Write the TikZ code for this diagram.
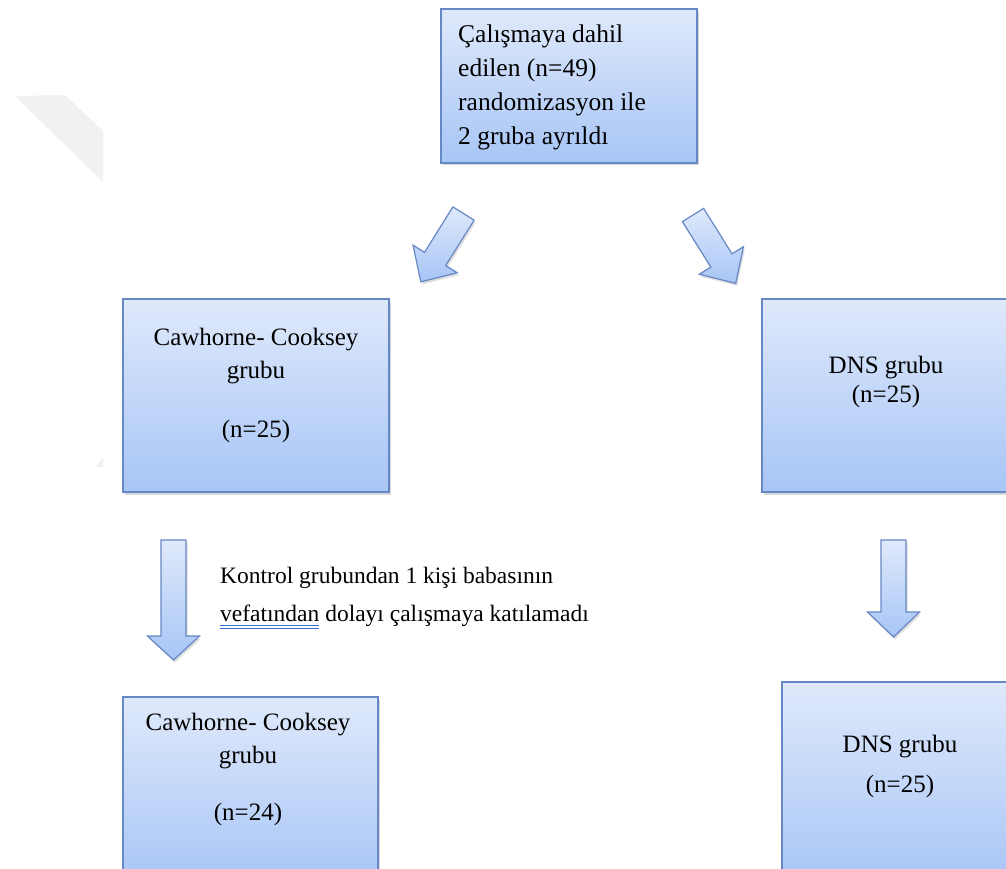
\documentclass[tikz,border=0pt]{standalone}
\usepackage{fontspec}
\setmainfont{Liberation Serif}
\usetikzlibrary{shadows}
\definecolor{boxtop}{HTML}{DFE9FB}
\definecolor{boxbot}{HTML}{A7C5F6}
\definecolor{boxline}{HTML}{6688C4}
\definecolor{ulblue}{HTML}{3A6FD8}
\definecolor{wmgray}{HTML}{F1F1F1}
\newsavebox\ulbox
\newcommand\dblunder[1]{\sbox\ulbox{#1}\rlap{\color{ulblue}\rule[-4.5pt]{\wd\ulbox}{0.9pt}\hspace{-\wd\ulbox}\rule[-7.5pt]{\wd\ulbox}{0.9pt}}\usebox\ulbox}
\newcommand\blockarrowpath[2]{(-12.5,0) -- (12.5,0) -- (12.5,#1) -- (26,#1) -- (0,#1+#2) -- (-26,#1) -- (-12.5,#1) -- cycle}
\begin{document}
\begin{tikzpicture}[x=1pt,y=-1pt,
  flowbox/.style={draw=boxline, line width=1.3pt, top color=boxtop, bottom color=boxbot,
    drop shadow={shadow xshift=1.5pt, shadow yshift=-2.5pt, opacity=0.3}, inner sep=0pt},
  flowarrow/.style={draw=boxline, line width=1.2pt, line join=miter, top color=boxtop, bottom color=boxbot,
    drop shadow={shadow xshift=1.5pt, shadow yshift=-2.5pt, opacity=0.25}},
  boxtext/.style={font=\fontsize{25}{30}\selectfont, anchor=base, inner sep=0pt},
  lefttext/.style={font=\fontsize{25.5}{30}\selectfont, anchor=base west, inner sep=0pt},
  notetext/.style={font=\fontsize{23.5}{28}\selectfont, anchor=base west, inner sep=0pt}]
\clip (0,0) rectangle (1006,869);
\fill[white] (0,0) rectangle (1006,869);
% faint watermark fragments
\fill[wmgray] (15,96) -- (65,95) -- (103,131) -- (103,182) -- cycle;
\fill[wmgray] (95,467) -- (103,458) -- (103,467) -- cycle;

% boxes
\node[flowbox, minimum width=256pt, minimum height=154pt] (top) at (569,86) {};
\node[flowbox, minimum width=266pt, minimum height=193pt] (cc1) at (256,395.5) {};
\node[flowbox, minimum width=250pt, minimum height=193pt] (dns1) at (887,395.5) {};
\node[flowbox, minimum width=255pt, minimum height=188pt] (cc2) at (250.5,791) {};
\node[flowbox, minimum width=250pt, minimum height=203pt] (dns2) at (907,783.5) {};

% texts
\node[lefttext] (t1) at (458,43) {Çalışmaya dahil};
\node[lefttext] (t2) at (458,77) {edilen (n=49)};
\node[lefttext] (t3) at (458,111) {randomizasyon ile};
\node[lefttext] (t4) at (458,145) {2 gruba ayrıldı};

\node[boxtext] (c1a) at (256,345) {Cawhorne- Cooksey};
\node[boxtext] (c1b) at (256,378) {grubu};
\node[boxtext] (c1c) at (256,437) {(n=25)};

\node[boxtext] (d1a) at (886,373) {DNS grubu};
\node[boxtext] (d1b) at (886,402) {(n=25)};

\node[boxtext] (c2a) at (248,730) {Cawhorne- Cooksey};
\node[boxtext] (c2b) at (248,763) {grubu};
\node[boxtext] (c2c) at (248,820) {(n=24)};

\node[boxtext] (d2a) at (900,752) {DNS grubu};
\node[boxtext] (d2b) at (900,792) {(n=25)};

\node[notetext] (n1) at (220,583) {Kontrol grubundan 1 kişi babasının};
\node[notetext] (n2) at (220,621) {\dblunder{vefatından} dolayı çalışmaya katılamadı};

% block arrows
\coordinate (a1) at (463.5,213.5);
\coordinate (a2) at (693,215);
\coordinate (a3) at (173.5,540);
\coordinate (a4) at (893.5,540);
\begin{scope}[shift={(a1)}, rotate=-32]
  \path[flowarrow] \blockarrowpath{53.6}{27};
\end{scope}
\begin{scope}[shift={(a2)}, rotate=32]
  \path[flowarrow] \blockarrowpath{53.6}{27};
\end{scope}
\begin{scope}[shift={(a3)}]
  \path[flowarrow] \blockarrowpath{96}{24};
\end{scope}
\begin{scope}[shift={(a4)}]
  \path[flowarrow] \blockarrowpath{72}{25};
\end{scope}
\end{tikzpicture}
\end{document}
